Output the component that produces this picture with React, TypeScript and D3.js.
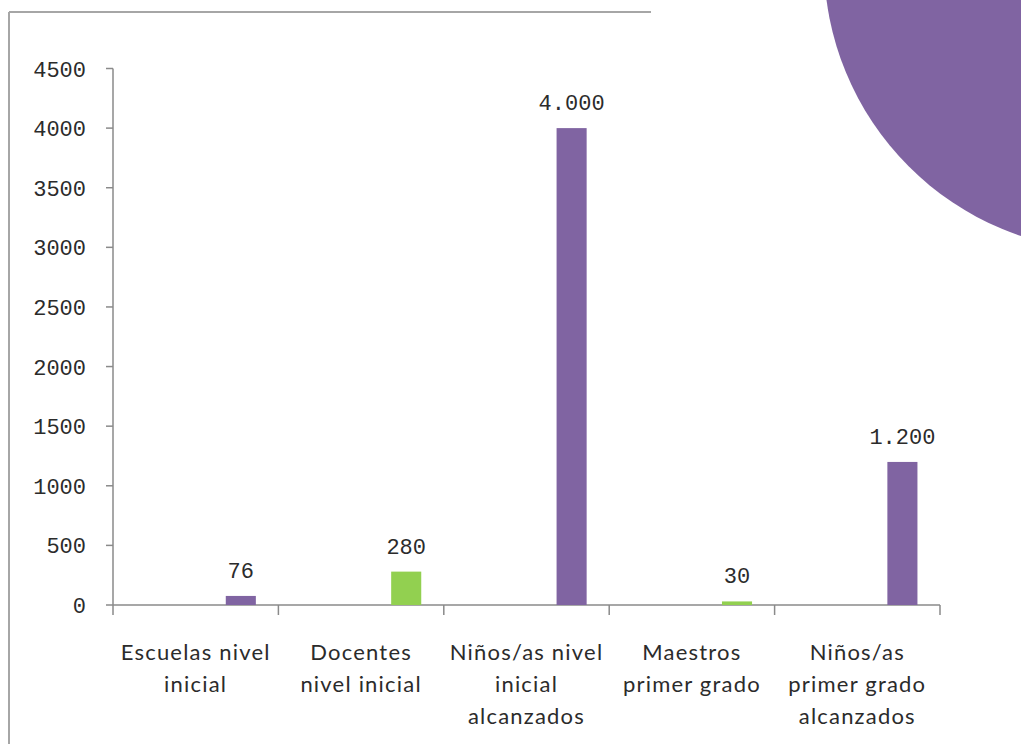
import React from 'react';
import * as d3 from 'd3';

// chart data
const categories = [
  'Escuelas nivel inicial',
  'Docentes nivel inicial',
  'Niños/as nivel inicial alcanzados',
  'Maestros primer grado',
  'Niños/as primer grado alcanzados',
];
const categoryLines = [
  ['Escuelas nivel', 'inicial'],
  ['Docentes', 'nivel inicial'],
  ['Niños/as nivel', 'inicial', 'alcanzados'],
  ['Maestros', 'primer grado'],
  ['Niños/as', 'primer grado', 'alcanzados'],
];
const values = [76, 280, 4000, 30, 1200];
const barColors = ['#8064A2', '#92D050', '#8064A2', '#92D050', '#8064A2'];
const yTicks = [0, 500, 1000, 1500, 2000, 2500, 3000, 3500, 4000, 4500];

const WIDTH = 1021;
const HEIGHT = 744;
const AXIS_COLOR = '#8a8a8a';
const TEXT_COLOR = '#2b2b2b';

// Spanish style thousands separator for the value labels
const esLocale = d3.formatLocale({
  decimal: ',',
  thousands: '.',
  grouping: [3],
  currency: ['', '€'],
});
const fmtValue = esLocale.format(',d');

const App: React.FC = () => {
  const x = d3.scaleBand<string>().domain(categories).range([113, 940]);
  const y = d3.scaleLinear().domain([0, 4500]).range([605, 68.5]);

  // excel cluster of 4 slots, every point sits in the last one
  const slot = d3
    .scaleBand<number>()
    .domain([0, 1, 2, 3])
    .range([0, x.bandwidth()])
    .paddingOuter(0.75);
  const barSlot = 3;

  const x0 = x.range()[0];
  const x1 = x.range()[1];

  return (
    <svg
      width={WIDTH}
      height={HEIGHT}
      style={{ position: 'absolute', left: 0, top: 0, background: '#fff' }}
    >
      {/* frame of the chart area */}
      <line x1={9} y1={12} x2={651} y2={12} stroke="#a6a6a6" strokeWidth={2} />
      <line x1={9} y1={12} x2={9} y2={HEIGHT} stroke="#a6a6a6" strokeWidth={2} />

      {/* decorative circle in the corner */}
      <circle cx={1113} cy={-38} r={289} fill="#8064A2" />

      {/* y axis */}
      <line x1={x0} y1={y(4500)} x2={x0} y2={y(0)} stroke={AXIS_COLOR} strokeWidth={1.5} />
      {yTicks.map((t) => (
        <g key={t}>
          <line x1={x0 - 7} x2={x0} y1={y(t)} y2={y(t)} stroke={AXIS_COLOR} strokeWidth={1.5} />
          <text
            x={86}
            y={y(t) + 8}
            textAnchor="end"
            fontFamily="'Liberation Mono', monospace"
            fontSize={22}
            fill={TEXT_COLOR}
          >
            {t}
          </text>
        </g>
      ))}

      {/* x axis */}
      <line x1={x0} y1={y(0)} x2={x1} y2={y(0)} stroke={AXIS_COLOR} strokeWidth={1.5} />
      {[...categories.map((c) => x(c) as number), x1].map((px, i) => (
        <line key={i} x1={px} x2={px} y1={y(0)} y2={y(0) + 10} stroke={AXIS_COLOR} strokeWidth={1.5} />
      ))}

      {/* bars */}
      {categories.map((c, i) => {
        const bx = (x(c) as number) + (slot(barSlot) as number);
        const bw = slot.bandwidth();
        return (
          <g key={c}>
            <rect
              x={bx}
              y={y(values[i])}
              width={bw}
              height={y(0) - y(values[i])}
              fill={barColors[i]}
            />
            <text
              x={bx + bw / 2}
              y={y(values[i]) - 18}
              textAnchor="middle"
              fontFamily="'Liberation Mono', monospace"
              fontSize={22}
              fill={TEXT_COLOR}
            >
              {fmtValue(values[i])}
            </text>
          </g>
        );
      })}

      {/* category labels */}
      {categories.map((c, i) => {
        const cx = (x(c) as number) + x.bandwidth() / 2;
        return (
          <text
            key={c}
            x={cx}
            y={660}
            textAnchor="middle"
            fontFamily="Lato, sans-serif"
            fontSize={22}
            letterSpacing={1.2}
            fill={TEXT_COLOR}
          >
            {categoryLines[i].map((line, j) => (
              <tspan key={j} x={cx} dy={j === 0 ? 0 : 32}>
                {line}
              </tspan>
            ))}
          </text>
        );
      })}
    </svg>
  );
};

export default App;
